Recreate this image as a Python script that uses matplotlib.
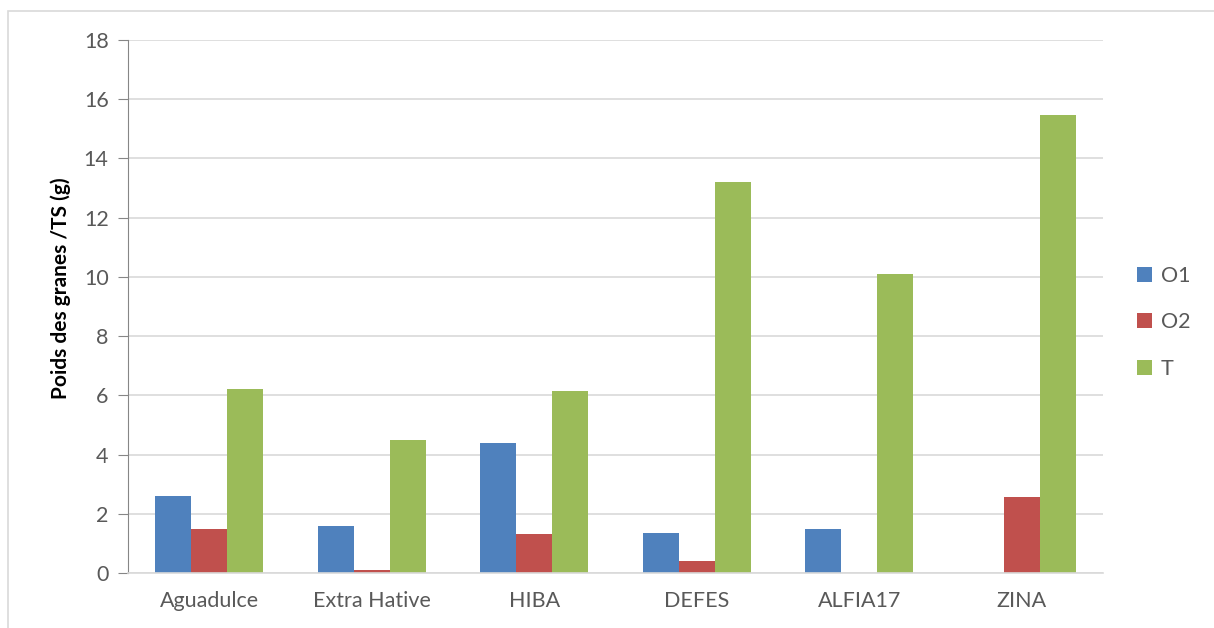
import numpy as np
import matplotlib
matplotlib.use("Agg")
from matplotlib import pyplot as plt
from matplotlib.patches import Rectangle

varietes = ["Aguadulce", "Extra Hative", "HIBA", "DEFES", "ALFIA17", "ZINA"]
o1 = [2.6, 1.59, 4.4, 1.35, 1.48, 0]
o2 = [1.48, 0.1, 1.32, 0.4, 0, 2.57]
t = [6.2, 4.48, 6.15, 13.2, 10.1, 15.47]

plt.rcParams['font.family'] = ['Lato', 'DejaVu Sans']

fig = plt.figure(figsize=(12.14, 6.28), dpi=100)
ax = fig.add_axes([128/1214, 55/628, 975/1214, 533/628])

# light frame round the chart area
fig.patches.append(Rectangle((8/1214, -0.1), 1.2, (628-11)/628 + 0.1, transform=fig.transFigure,
                             fill=False, edgecolor='#d9d9d9', linewidth=1.2))

x = np.arange(len(varietes))
w = 0.222
ax.bar(x - w, o1, w, color='#4f81bd', label='O1')
ax.bar(x, o2, w, color='#c0504d', label='O2')
ax.bar(x + w, t, w, color='#9bbb59', label='T')

ax.set_xlim(-0.5, len(varietes) - 0.5)
ax.set_ylim(0, 18)
ax.set_yticks(range(0, 19, 2))
ax.set_xticks(x)
ax.set_xticklabels(varietes)
ax.yaxis.grid(True, color='#d9d9d9', linewidth=1.2)
ax.set_axisbelow(True)

for s in ['top', 'right']:
    ax.spines[s].set_visible(False)
ax.spines['left'].set_color('#868686')
ax.spines['bottom'].set_color('#d9d9d9')
ax.spines['bottom'].set_linewidth(1.2)
ax.tick_params(axis='y', colors='#868686', labelcolor='#595959', labelsize=15.5, length=7, pad=7)
ax.tick_params(axis='x', length=0, labelcolor='#595959', labelsize=15.5, pad=13)

ax.set_ylabel("Poids des granes /TS (g)", fontsize=15, fontweight='bold')
ax.yaxis.set_label_coords(-0.058, 0.534)

ax.legend(loc='center left', bbox_to_anchor=(1.015, 0.47), frameon=False, fontsize=15.5,
          labelcolor='#595959', handlelength=0.7, handleheight=0.7, labelspacing=1.25, handletextpad=0.4)

fig.savefig("out.png", dpi=100)
